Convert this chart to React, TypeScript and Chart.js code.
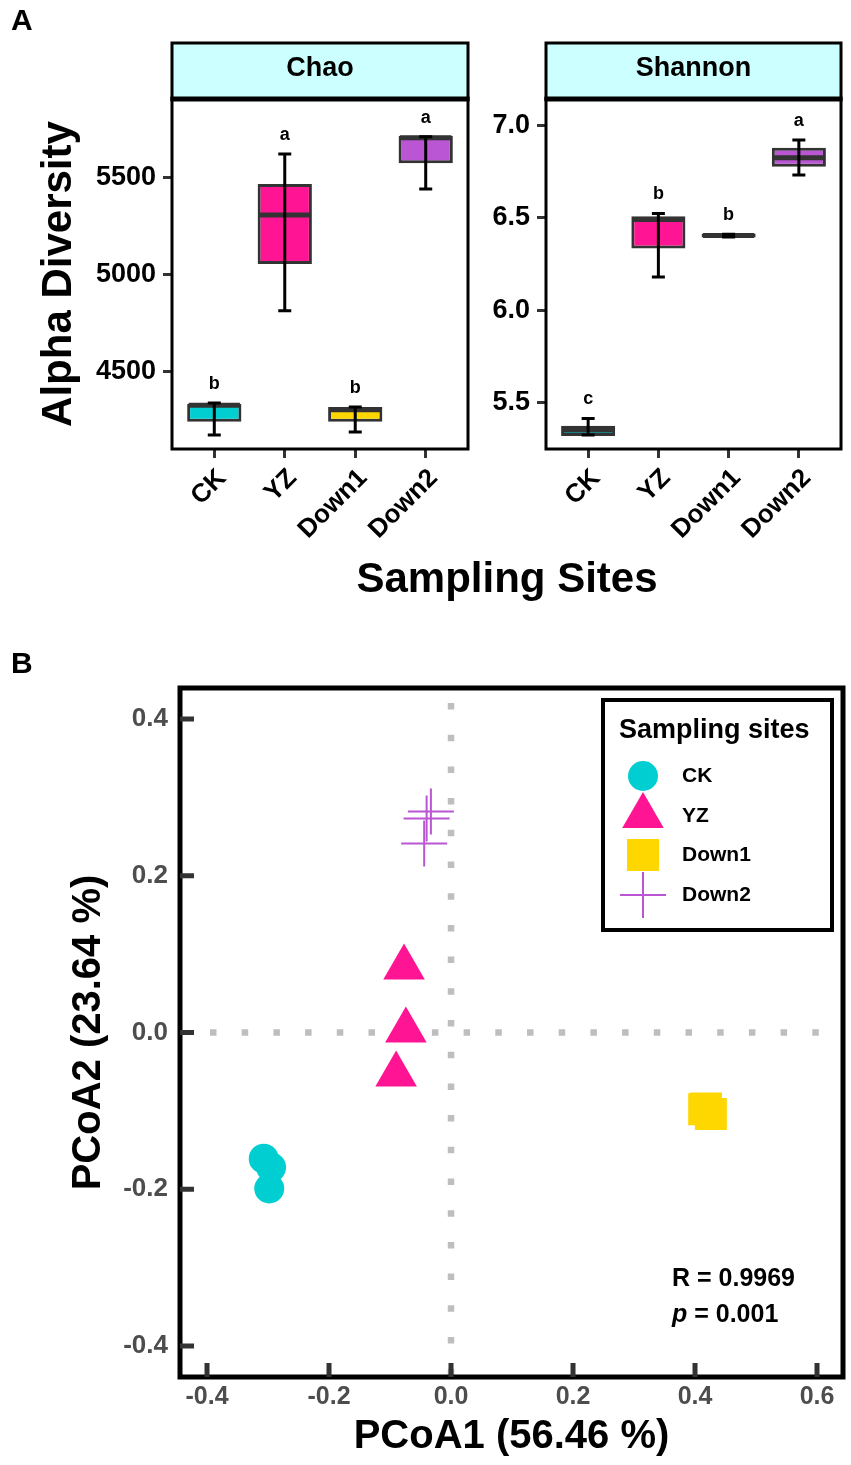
import React, { useEffect, useRef } from 'react';
import { Chart, registerables } from 'chart.js';
import { drawPoint } from 'chart.js/helpers';

Chart.register(...registerables);

const FONT = '"Liberation Sans", Arial, Helvetica, sans-serif';
Chart.defaults.font.family = FONT;

// ---------------- data ----------------
const sites = ['CK', 'YZ', 'Down1', 'Down2'];
const sitePositions = [1, 2, 3, 4];
const siteColors = ['#00CED1', '#FF1493', '#FFD700', '#BA55D3'];

// Chao (box plot: whisker low, Q1, median, Q3, whisker high)
const chaoLow = [4175, 4816, 4190, 5443];
const chaoQ1 = [4244, 5057, 4244, 5576];
const chaoMedian = [4328, 5309, 4305, 5707];
const chaoQ3 = [4335, 5469, 4320, 5718];
const chaoHigh = [4340, 5624, 4320, 5713];
const chaoLetters = ['b', 'a', 'b', 'a'];
const chaoTicks = [4500, 5000, 5500];

// Shannon
const shannonLow = [5.323, 6.18, 6.397, 6.733];
const shannonQ1 = [5.317, 6.334, 6.394, 6.778];
const shannonMedian = [5.35, 6.492, 6.405, 6.826];
const shannonQ3 = [5.373, 6.509, 6.415, 6.881];
const shannonHigh = [5.413, 6.524, 6.412, 6.922];
const shannonLetters = ['c', 'b', 'b', 'a'];
const shannonTicks = [5.5, 6.0, 6.5, 7.0];

// PCoA
const ckX = [-0.307, -0.295, -0.298];
const ckY = [-0.161, -0.172, -0.199];
const yzX = [-0.077, -0.074, -0.09];
const yzY = [0.083, 0.0025, -0.0535];
const down1X = [0.415, 0.426, 0.418];
const down1Y = [-0.098, -0.104, -0.097];
const down2X = [-0.033, -0.04, -0.044];
const down2Y = [0.282, 0.273, 0.241];
const pcoaXTicks = [-0.4, -0.2, 0, 0.2, 0.4, 0.6];
const pcoaYTicks = [-0.4, -0.2, 0, 0.2, 0.4];
const anosimR = '0.9969';
const anosimP = '0.001';

// ---------------- box plot facet ----------------
type BoxSpec = {
  strip: string;
  low: number[];
  q1: number[];
  median: number[];
  q3: number[];
  high: number[];
  letters: string[];
  ticks: number[];
  yMin: number;
  yMax: number;
  decimals: number;
  leftWidth: number;
  padRight: number;
  title?: string;
};

function boxChart(canvas: HTMLCanvasElement, spec: BoxSpec) {
  const plugin = {
    id: 'boxExtras',
    afterDatasetsDraw(chart: any) {
      const { ctx } = chart;
      const y = chart.scales.y;
      const meta = chart.getDatasetMeta(0);
      ctx.save();
      meta.data.forEach((bar: any, i: number) => {
        const cx = bar.x;
        const half = bar.width / 2;
        // median
        const my = y.getPixelForValue(spec.median[i]);
        ctx.strokeStyle = '#333333';
        ctx.lineWidth = 5;
        ctx.beginPath();
        ctx.moveTo(cx - half + 1.5, my);
        ctx.lineTo(cx + half - 1.5, my);
        ctx.stroke();
        // error bar
        const lo = y.getPixelForValue(spec.low[i]);
        const hi = y.getPixelForValue(spec.high[i]);
        ctx.strokeStyle = '#000000';
        ctx.lineWidth = 3;
        ctx.beginPath();
        ctx.moveTo(cx, lo);
        ctx.lineTo(cx, hi);
        ctx.moveTo(cx - 6.5, lo);
        ctx.lineTo(cx + 6.5, lo);
        ctx.moveTo(cx - 6.5, hi);
        ctx.lineTo(cx + 6.5, hi);
        ctx.stroke();
        // significance letter
        ctx.fillStyle = '#000000';
        ctx.font = `bold 18px ${FONT}`;
        ctx.textAlign = 'center';
        ctx.textBaseline = 'middle';
        ctx.fillText(spec.letters[i], cx, hi - 19);
      });
      ctx.restore();
    },
    afterDraw(chart: any) {
      const { ctx, chartArea: a } = chart;
      const stripH = 56;
      const top = a.top - stripH;
      const w = a.right - a.left;
      ctx.save();
      ctx.fillStyle = '#CCFFFF';
      ctx.fillRect(a.left, top, w, stripH);
      ctx.strokeStyle = '#000000';
      ctx.lineWidth = 3;
      ctx.strokeRect(a.left, top, w, stripH);
      ctx.strokeRect(a.left, a.top, w, a.bottom - a.top);
      ctx.lineWidth = 5;
      ctx.beginPath();
      ctx.moveTo(a.left - 1.5, a.top);
      ctx.lineTo(a.right + 1.5, a.top);
      ctx.stroke();
      ctx.fillStyle = '#000000';
      ctx.font = `bold 27px ${FONT}`;
      ctx.textAlign = 'center';
      ctx.textBaseline = 'middle';
      ctx.fillText(spec.strip, (a.left + a.right) / 2, top + 26);
      ctx.restore();
    },
  };

  const canvasH = canvas.height;
  return new Chart(canvas, {
    type: 'bar',
    data: {
      datasets: [
        {
          data: sitePositions.map((x, i) => ({ x, y: [spec.q1[i], spec.q3[i]] })) as any,
          backgroundColor: siteColors,
          borderColor: '#333333',
          borderWidth: 3,
          borderSkipped: false,
          barPercentage: 0.77,
          categoryPercentage: 1,
        },
      ],
    },
    options: {
      responsive: false,
      animation: false,
      events: [],
      layout: { autoPadding: false, padding: { left: 0, right: spec.padRight, top: 99, bottom: 0 } },
      plugins: { legend: { display: false }, tooltip: { enabled: false } },
      scales: {
        x: {
          type: 'linear',
          min: 0.4,
          max: 4.6,
          offset: false,
          grid: {
            display: true,
            offset: false,
            drawOnChartArea: false,
            drawTicks: true,
            tickLength: 9,
            color: '#333333',
            lineWidth: 3,
          },
          border: { display: false },
          afterBuildTicks: (s: any) => {
            s.ticks = sitePositions.map((v) => ({ value: v }));
          },
          afterFit: (s: any) => {
            s.height = canvasH - 449;
            s.paddingLeft = 0;
            s.paddingRight = 0;
          },
          ticks: {
            autoSkip: false,
            minRotation: 45,
            maxRotation: 45,
            labelOffset: 8,
            padding: 5,
            color: '#000000',
            font: { size: 26, weight: 'bold', family: FONT },
            callback: (_v: any, i: number) => sites[i],
          },
        },
        y: {
          min: spec.yMin,
          max: spec.yMax,
          grid: {
            display: true,
            drawOnChartArea: false,
            drawTicks: true,
            tickLength: 9,
            color: '#333333',
            lineWidth: 3,
          },
          border: { display: false },
          afterBuildTicks: (s: any) => {
            s.ticks = spec.ticks.map((v) => ({ value: v }));
          },
          afterFit: (s: any) => {
            s.width = spec.leftWidth;
            s.paddingTop = 0;
            s.paddingBottom = 0;
          },
          ticks: {
            padding: 7,
            color: '#000000',
            font: { size: 27, weight: 'bold', family: FONT },
            callback: (v: any) => Number(v).toFixed(spec.decimals),
          },
          title: spec.title
            ? {
                display: true,
                text: spec.title,
                color: '#000000',
                font: { size: 42, weight: 'bold', family: FONT },
                padding: { top: 34, bottom: 0 },
              }
            : { display: false },
        },
      },
    } as any,
    plugins: [plugin],
  });
}

// ---------------- PCoA ----------------
function pcoaChart(canvas: HTMLCanvasElement) {
  const plugin = {
    id: 'pcoaExtras',
    beforeDatasetsDraw(chart: any) {
      const { ctx, chartArea: a } = chart;
      const x0 = chart.scales.x.getPixelForValue(0);
      const y0 = chart.scales.y.getPixelForValue(0);
      ctx.save();
      ctx.strokeStyle = '#BEBEBE';
      ctx.lineWidth = 6.5;
      ctx.setLineDash([6.5, 25.2]);
      ctx.lineDashOffset = -15;
      ctx.beginPath();
      ctx.moveTo(x0, a.top);
      ctx.lineTo(x0, a.bottom);
      ctx.stroke();
      ctx.lineDashOffset = -24;
      ctx.beginPath();
      ctx.moveTo(a.left + 6, y0);
      ctx.lineTo(a.right, y0);
      ctx.stroke();
      ctx.restore();
    },
    afterDraw(chart: any) {
      const { ctx, chartArea: a } = chart;
      const xs = chart.scales.x;
      const ys = chart.scales.y;
      ctx.save();
      // panel border
      ctx.strokeStyle = '#000000';
      ctx.lineWidth = 5;
      ctx.strokeRect(a.left, a.top, a.right - a.left, a.bottom - a.top);
      // inward tick marks
      ctx.strokeStyle = '#333333';
      ctx.lineWidth = 5;
      ctx.beginPath();
      pcoaXTicks.forEach((v) => {
        const px = xs.getPixelForValue(v);
        ctx.moveTo(px, a.bottom);
        ctx.lineTo(px, a.bottom - 14);
      });
      pcoaYTicks.forEach((v) => {
        const py = ys.getPixelForValue(v);
        ctx.moveTo(a.left, py);
        ctx.lineTo(a.left + 14, py);
      });
      ctx.stroke();

      // legend
      const bw = 229;
      const bh = 230;
      const bx = a.right - 11 - bw;
      const by = a.top + 12;
      ctx.fillStyle = '#FFFFFF';
      ctx.fillRect(bx, by, bw, bh);
      ctx.strokeStyle = '#000000';
      ctx.lineWidth = 4;
      ctx.strokeRect(bx, by, bw, bh);
      ctx.fillStyle = '#000000';
      ctx.font = `bold 27px ${FONT}`;
      ctx.textAlign = 'left';
      ctx.textBaseline = 'middle';
      ctx.fillText('Sampling sites', bx + 16, by + 31);
      const rows = [76, 116, 155, 195];
      chart.data.datasets.forEach((ds: any, i: number) => {
        const cy = by + rows[i];
        ctx.fillStyle = ds.backgroundColor;
        ctx.strokeStyle = ds.borderColor || ds.backgroundColor;
        ctx.lineWidth = ds.borderWidth || 0;
        drawPoint(
          ctx,
          { pointStyle: ds.pointStyle, radius: ds.pointRadius, rotation: 0, borderWidth: ds.borderWidth || 0 } as any,
          bx + 40,
          cy
        );
        ctx.fillStyle = '#000000';
        ctx.font = `bold 21px ${FONT}`;
        ctx.fillText(ds.label, bx + 79, cy);
      });

      // ANOSIM text
      ctx.fillStyle = '#000000';
      ctx.font = `bold 25px ${FONT}`;
      ctx.textAlign = 'left';
      ctx.textBaseline = 'middle';
      const tx = a.right - 171;
      ctx.fillText(`R = ${anosimR}`, tx, a.bottom - 98);
      ctx.font = `italic bold 25px ${FONT}`;
      ctx.fillText('p', tx, a.bottom - 62);
      const pw = ctx.measureText('p').width;
      ctx.font = `bold 25px ${FONT}`;
      ctx.fillText(` = ${anosimP}`, tx + pw, a.bottom - 62);
      ctx.restore();
    },
  };

  const pts = (xs: number[], ys: number[]) => xs.map((x, i) => ({ x, y: ys[i] }));

  return new Chart(canvas, {
    type: 'scatter',
    data: {
      datasets: [
        { label: sites[0], data: pts(ckX, ckY), pointStyle: 'circle', pointRadius: 15, backgroundColor: siteColors[0], borderColor: siteColors[0], borderWidth: 0 },
        { label: sites[1], data: pts(yzX, yzY), pointStyle: 'triangle', pointRadius: 24, backgroundColor: siteColors[1], borderColor: siteColors[1], borderWidth: 0 },
        { label: sites[2], data: pts(down1X, down1Y), pointStyle: 'rect', pointRadius: 22.6, backgroundColor: siteColors[2], borderColor: siteColors[2], borderWidth: 0 },
        { label: sites[3], data: pts(down2X, down2Y), pointStyle: 'cross', pointRadius: 23, backgroundColor: siteColors[3], borderColor: siteColors[3], borderWidth: 2 },
      ],
    },
    options: {
      responsive: false,
      animation: false,
      events: [],
      layout: { autoPadding: false, padding: { left: 0, right: 8, top: 38, bottom: 0 } },
      plugins: { legend: { display: false }, tooltip: { enabled: false } },
      scales: {
        x: {
          type: 'linear',
          min: -0.4443,
          max: 0.6426,
          grid: { display: false, drawTicks: false },
          border: { display: false },
          afterBuildTicks: (s: any) => {
            s.ticks = pcoaXTicks.map((v) => ({ value: v }));
          },
          afterFit: (s: any) => {
            s.height = 88;
            s.paddingLeft = 0;
            s.paddingRight = 0;
          },
          ticks: {
            padding: 5,
            color: '#4D4D4D',
            font: { size: 25, weight: 'bold', family: FONT },
            callback: (v: any) => Number(v).toFixed(1),
          },
          title: {
            display: true,
            text: 'PCoA1 (56.46 %)',
            color: '#000000',
            font: { size: 40, weight: 'bold', family: FONT },
            padding: { top: 0, bottom: 4 },
          },
        },
        y: {
          type: 'linear',
          min: -0.4395,
          max: 0.4395,
          grid: { display: false, drawTicks: false },
          border: { display: false },
          afterBuildTicks: (s: any) => {
            s.ticks = pcoaYTicks.map((v) => ({ value: v }));
          },
          afterFit: (s: any) => {
            s.width = 180;
            s.paddingTop = 0;
            s.paddingBottom = 0;
          },
          ticks: {
            padding: 12,
            color: '#4D4D4D',
            font: { size: 26, weight: 'bold', family: FONT },
            callback: (v: any) => Number(v).toFixed(1),
          },
          title: {
            display: true,
            text: 'PCoA2 (23.64 %)',
            color: '#000000',
            font: { size: 40, weight: 'bold', family: FONT },
            padding: { top: 65, bottom: 0 },
          },
        },
      },
    } as any,
    plugins: [plugin],
  });
}

export default function App() {
  const chaoRef = useRef<HTMLCanvasElement>(null);
  const shannonRef = useRef<HTMLCanvasElement>(null);
  const pcoaRef = useRef<HTMLCanvasElement>(null);

  useEffect(() => {
    const charts: Chart[] = [];
    if (chaoRef.current) {
      charts.push(
        boxChart(chaoRef.current, {
          strip: 'Chao',
          low: chaoLow,
          q1: chaoQ1,
          median: chaoMedian,
          q3: chaoQ3,
          high: chaoHigh,
          letters: chaoLetters,
          ticks: chaoTicks,
          yMin: 4103,
          yMax: 5907,
          decimals: 0,
          leftWidth: 172,
          padRight: 12,
          title: 'Alpha Diversity',
        })
      );
    }
    if (shannonRef.current) {
      charts.push(
        boxChart(shannonRef.current, {
          strip: 'Shannon',
          low: shannonLow,
          q1: shannonQ1,
          median: shannonMedian,
          q3: shannonQ3,
          high: shannonHigh,
          letters: shannonLetters,
          ticks: shannonTicks,
          yMin: 5.247,
          yMax: 7.145,
          decimals: 1,
          leftWidth: 66,
          padRight: 10,
        })
      );
    }
    if (pcoaRef.current) charts.push(pcoaChart(pcoaRef.current));
    return () => charts.forEach((c) => c.destroy());
  }, []);

  const abs = (left: number, top: number): React.CSSProperties => ({ position: 'absolute', left, top, display: 'block' });

  return (
    <div style={{ position: 'absolute', left: 0, top: 0, width: 851, height: 1465, background: '#FFFFFF', fontFamily: FONT, overflow: 'hidden' }}>
      <canvas ref={chaoRef} width={480} height={560} style={{ ...abs(0, 0), width: 480, height: 560 }} />
      <canvas ref={shannonRef} width={371} height={560} style={{ ...abs(480, 0), width: 371, height: 560 }} />
      <canvas ref={pcoaRef} width={851} height={815} style={{ ...abs(0, 650), width: 851, height: 815 }} />
      <div style={{ position: 'absolute', left: 11, top: 5, fontSize: 30, lineHeight: '30px', fontWeight: 'bold', color: '#000' }}>A</div>
      <div style={{ position: 'absolute', left: 11, top: 648, fontSize: 30, lineHeight: '30px', fontWeight: 'bold', color: '#000' }}>B</div>
      <div style={{ position: 'absolute', left: 207, width: 600, top: 557, fontSize: 42, lineHeight: '42px', fontWeight: 'bold', color: '#000', textAlign: 'center' }}>
        Sampling Sites
      </div>
    </div>
  );
}
